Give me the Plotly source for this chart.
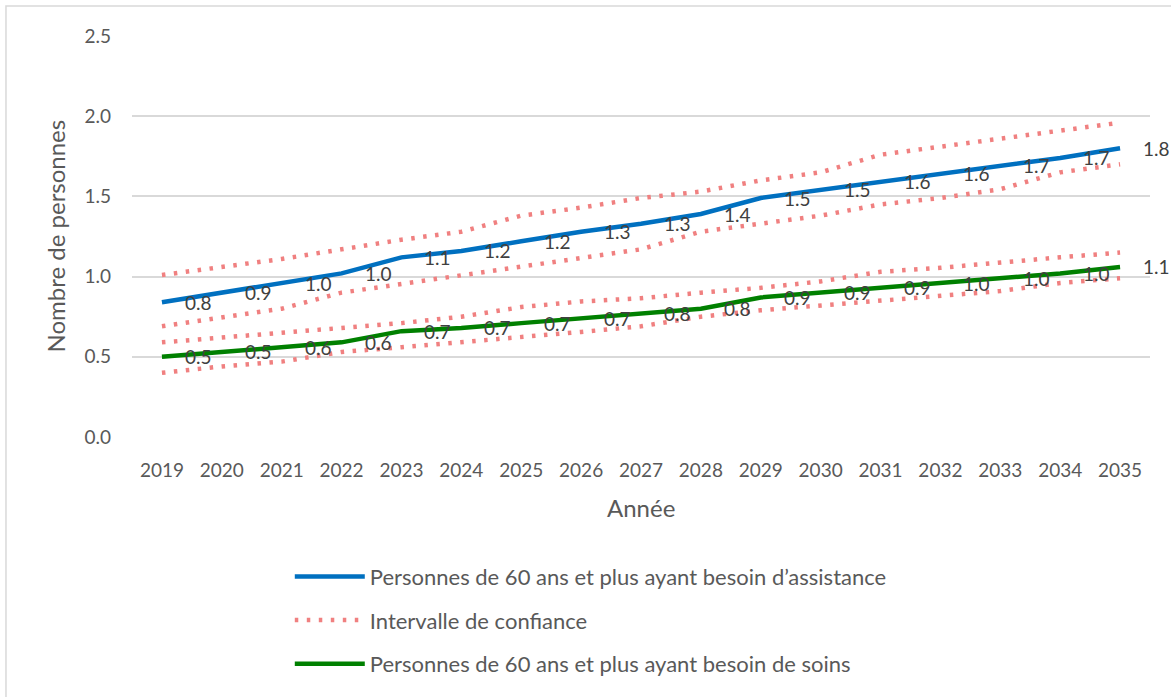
import plotly.graph_objects as go

years = list(range(2019, 2036))
assistance = [0.84, 0.90, 0.96, 1.02, 1.12, 1.16, 1.22, 1.28, 1.33, 1.39, 1.49, 1.54, 1.59, 1.64, 1.69, 1.74, 1.80]
soins = [0.50, 0.53, 0.56, 0.59, 0.66, 0.68, 0.71, 0.74, 0.77, 0.80, 0.87, 0.90, 0.93, 0.96, 0.99, 1.02, 1.06]
ci_assist_hi = [1.01, 1.06, 1.11, 1.17, 1.23, 1.28, 1.38, 1.43, 1.49, 1.53, 1.60, 1.65, 1.76, 1.81, 1.86, 1.91, 1.96]
ci_assist_lo = [0.69, 0.745, 0.80, 0.90, 0.955, 1.005, 1.065, 1.12, 1.17, 1.28, 1.33, 1.38, 1.45, 1.49, 1.545, 1.65, 1.70]
ci_soins_hi = [0.59, 0.62, 0.65, 0.68, 0.71, 0.75, 0.81, 0.845, 0.865, 0.90, 0.93, 0.97, 1.03, 1.055, 1.09, 1.12, 1.15]
ci_soins_lo = [0.40, 0.44, 0.47, 0.53, 0.56, 0.59, 0.625, 0.655, 0.69, 0.75, 0.79, 0.82, 0.85, 0.88, 0.91, 0.96, 0.99]
y_ticks = [0.0, 0.5, 1.0, 1.5, 2.0, 2.5]

name_assist = "Personnes de 60 ans et plus ayant besoin d\u2019assistance"
name_ci = "Intervalle de confiance"
name_soins = "Personnes de 60 ans et plus ayant besoin de soins"

FONT = "Lato, 'Open Sans', sans-serif"
BLUE = "#0070C0"
GREEN = "#008000"
CI_COL = "#F08080"
TXT = "#595959"

fig = go.Figure()

for i, ci in enumerate([ci_assist_hi, ci_assist_lo, ci_soins_hi, ci_soins_lo]):
    fig.add_trace(go.Scatter(
        x=years, y=ci, mode="lines", name=name_ci, legendgroup="ci",
        showlegend=(i == 0), legendrank=2,
        line=dict(color=CI_COL, width=4.5, dash="3.5px,8.5px"), hoverinfo="skip"))

fig.add_trace(go.Scatter(x=years, y=assistance, mode="lines", name=name_assist,
                         legendgroup="a", legendrank=1,
                         line=dict(color=BLUE, width=4.5)))
fig.add_trace(go.Scatter(x=years, y=soins, mode="lines", name=name_soins,
                         legendgroup="s", legendrank=3,
                         line=dict(color=GREEN, width=4.5)))

annotations = []
for series in (assistance, soins):
    for x, v in zip(years, series):
        annotations.append(dict(x=x, y=v, xref="x", yref="y", text=f"{v:.1f}",
                                showarrow=False, xanchor="left", yanchor="middle",
                                xshift=21, font=dict(family=FONT, size=19, color="#404040")))

annotations.append(dict(x=0.5, y=-0.177, xref="paper", yref="paper", text="Année",
                        showarrow=False, xanchor="center", yanchor="middle",
                        font=dict(family=FONT, size=24, color=TXT)))
annotations.append(dict(x=-0.0756, y=0.5, xref="paper", yref="paper", text="Nombre de personnes",
                        showarrow=False, xanchor="center", yanchor="middle", textangle=-90,
                        font=dict(family=FONT, size=24, color=TXT)))

fig.update_layout(
    width=1171, height=697,
    margin=dict(l=132, r=21, t=36, b=260, autoexpand=False),
    paper_bgcolor="white", plot_bgcolor="white",
    font=dict(family=FONT, color=TXT),
    annotations=annotations,
    showlegend=True,
    legend=dict(orientation="v", x=0.155, y=-0.296, xanchor="left", yanchor="top",
                itemwidth=70, tracegroupgap=12, traceorder="grouped",
                font=dict(family=FONT, size=22, color=TXT), bgcolor="rgba(0,0,0,0)"),
    shapes=[dict(type="rect", xref="paper", yref="paper", x0=-0.1238, x1=1.05, y0=-0.75, y1=1.0748,
                 line=dict(color="#D9D9D9", width=1.5), fillcolor="rgba(0,0,0,0)", layer="below")],
)

fig.update_xaxes(range=[2018.5, 2035.5], tickmode="array", tickvals=years,
                 ticktext=[str(y) for y in years], showgrid=False, zeroline=False,
                 showline=False, ticks="", ticklabelstandoff=20,
                 tickfont=dict(family=FONT, size=19, color=TXT), fixedrange=True)
fig.update_yaxes(range=[0, 2.5], tickmode="array", tickvals=y_ticks,
                 ticktext=[f"{t:.1f}" for t in y_ticks], showgrid=True,
                 gridcolor="#D9D9D9", gridwidth=1.5, zeroline=False, showline=False,
                 ticks="", ticklabelstandoff=20,
                 tickfont=dict(family=FONT, size=19, color=TXT), fixedrange=True)

fig.write_html("out.html", config={"displayModeBar": False},
               post_script="document.body.style.margin='0px';document.body.style.padding='0px';")
